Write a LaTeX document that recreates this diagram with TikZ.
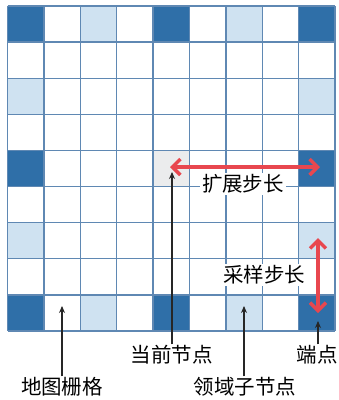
\documentclass[tikz,border=0pt]{standalone}
\usepackage{fontspec}
\newfontfamily\cjk{Noto Sans CJK SC}
\usetikzlibrary{arrows.meta}
\definecolor{gridline}{HTML}{5F88B3}
\definecolor{darkcell}{HTML}{2F6FA8}
\definecolor{lightcell}{HTML}{CFE2F1}
\definecolor{curcell}{HTML}{EBECED}
\definecolor{redarr}{HTML}{E8474F}
\tikzset{
  lbl/.style={font=\cjk\fontsize{20.5}{23}\selectfont, inner sep=1pt},
  boxlbl/.style={lbl, fill=white, inner sep=2pt},
  ptr/.style={draw=black!85, line width=1.1pt, -{Stealth[length=7pt,width=6pt]}},
  steparrow/.style={draw=redarr, line width=3.4pt, {Straight Barb[length=8pt,width=16pt]}-{Straight Barb[length=8pt,width=16pt]}},
  gl/.style={draw=gridline, line width=1.4pt}
}
\begin{document}
\begin{tikzpicture}[x=1pt,y=-1pt]
\useasboundingbox (0,0) rectangle (339,400);
\def\cw{36.4}\def\ch{36.1}\def\ox{7.5}\def\oy{6}
% cell fills
\foreach \c/\r in {0/0,4/0,8/0,0/4,8/4,0/8,4/8,8/8}
  \fill[darkcell] ({\ox+\c*\cw},{\oy+\r*\ch}) rectangle ++(\cw,\ch);
\foreach \c/\r in {2/0,6/0,0/2,8/2,0/6,8/6,2/8,6/8}
  \fill[lightcell] ({\ox+\c*\cw},{\oy+\r*\ch}) rectangle ++(\cw,\ch);
\fill[curcell] ({\ox+4*\cw},{\oy+4*\ch}) rectangle ++(\cw,\ch);
% grid lines
\foreach \i in {0,...,9} {
  \draw[gl] ({\ox+\i*\cw},\oy) -- ({\ox+\i*\cw},{\oy+9*\ch});
  \draw[gl] (\ox,{\oy+\i*\ch}) -- ({\ox+9*\cw},{\oy+\i*\ch});
}
% step arrows
\coordinate (hA) at (170,167);
\coordinate (hB) at (320,167);
\coordinate (vA) at (318,238);
\coordinate (vB) at (318,313);
\draw[steparrow] (hA) -- (hB);
\draw[steparrow] (vA) -- (vB);
\node[boxlbl] (ext) at (243,184) {扩展步长};
\node[boxlbl] (samp) at (264,275) {采样步长};
% pointer targets
\coordinate (tGrid) at (62,306);
\coordinate (tCur) at (172,172);
\coordinate (tNb) at (244,306);
\coordinate (tEnd) at (318,321);
% labels
\node[lbl] (lGrid) at (62,387) {地图栅格};
\node[lbl] (lCur) at (172,355) {当前节点};
\node[lbl] (lNb) at (245,387) {领域子节点};
\node[lbl] (lEnd) at (317,355) {端点};
\draw[ptr] (lGrid.north -| tGrid) -- (tGrid);
\draw[ptr] (lCur.north -| tCur) -- (tCur);
\draw[ptr] (lNb.north -| tNb) -- (tNb);
\draw[ptr] (lEnd.north -| tEnd) -- (tEnd);
\end{tikzpicture}
\end{document}
